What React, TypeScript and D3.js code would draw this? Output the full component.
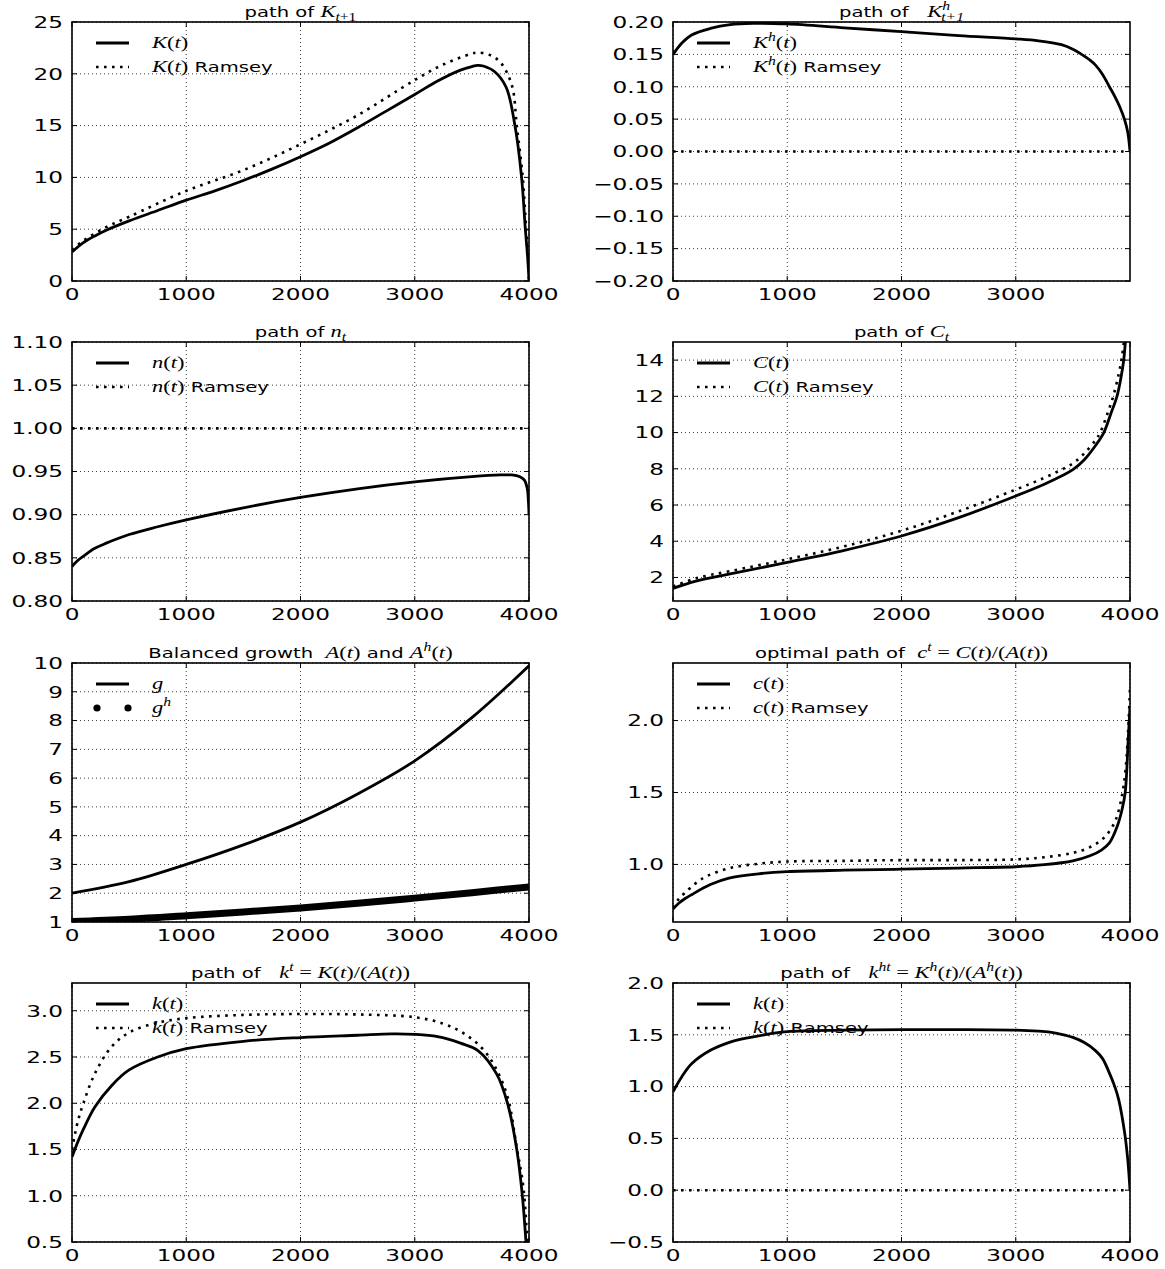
import React from "react";
import * as d3 from "d3";

// ---- data ----
const X_TICKS = [0, 1000, 2000, 3000, 4000];
const X_TICKS_KH = [0, 1000, 2000, 3000];

// K(t)
const K_T = [0, 100, 200, 300, 500, 750, 1000, 1250, 1500, 1750, 2000, 2250, 2500, 2750, 3000, 3200, 3400, 3500, 3550, 3600, 3700, 3800, 3877, 3935, 3968, 3990, 4000];
const K_VALS = [2.8, 3.7, 4.35, 4.9, 5.8, 6.8, 7.8, 8.7, 9.7, 10.8, 12.0, 13.3, 14.8, 16.4, 18.0, 19.3, 20.35, 20.7, 20.82, 20.75, 20.2, 18.7, 15.0, 10.0, 5.0, 2.0, 0];
const KR_T = [0, 100, 300, 500, 1000, 1500, 2000, 2500, 3000, 3250, 3500, 3550, 3650, 3750, 3850, 3893, 3945, 3975, 3992, 4000];
const KR_VALS = [3.0, 3.9, 5.2, 6.2, 8.7, 10.7, 13.2, 16.0, 19.4, 20.9, 21.95, 22.05, 21.85, 21.1, 18.9, 15.0, 10.0, 5.0, 2.0, 0];

// K^h(t)
const KH_T = [0, 80, 163, 327, 500, 700, 1000, 1500, 2000, 2500, 3000, 3200, 3400, 3500, 3576, 3650, 3700, 3760, 3820, 3870, 3910, 3951, 3980, 4000];
const KH_VALS = [0.15, 0.168, 0.18, 0.19, 0.196, 0.198, 0.197, 0.191, 0.185, 0.179, 0.174, 0.171, 0.165, 0.158, 0.15, 0.141, 0.133, 0.119, 0.1, 0.084, 0.069, 0.05, 0.03, 0.0];
const KHR_T = [0, 4000];
const KHR_VALS = [0, 0];

// n(t)
const N_T = [0, 50, 100, 200, 300, 500, 750, 1000, 1500, 2000, 2500, 3000, 3500, 3750, 3850, 3920, 3960, 3985, 3995, 4000];
const N_VALS = [0.84, 0.847, 0.852, 0.861, 0.867, 0.877, 0.886, 0.894, 0.908, 0.92, 0.93, 0.938, 0.944, 0.946, 0.946, 0.944, 0.94, 0.93, 0.915, 0.9];
const NR_T = [0, 4000];
const NR_VALS = [1, 1];

// C(t)
const C_T = [0, 200, 500, 1000, 1500, 2000, 2500, 3000, 3250, 3400, 3500, 3600, 3700, 3771, 3830, 3886, 3920, 3945, 3965];
const C_VALS = [1.4, 1.8, 2.2, 2.83, 3.5, 4.29, 5.3, 6.5, 7.15, 7.6, 7.95, 8.5, 9.3, 10.0, 11.0, 12.0, 13.0, 14.0, 15.5];
const CR_T = [0, 200, 500, 1000, 1500, 2000, 2500, 3000, 3250, 3400, 3500, 3600, 3700, 3739, 3800, 3853, 3900, 3930, 3955];
const CR_VALS = [1.5, 1.95, 2.35, 3.0, 3.72, 4.58, 5.65, 6.85, 7.5, 7.95, 8.3, 8.85, 9.6, 10.0, 11.0, 12.0, 13.2, 14.2, 15.5];

// A(t), A^h(t)
const G_T = [0, 500, 1000, 1500, 2000, 2500, 3000, 3500, 4000];
const G_VALS = [2.0, 2.4, 3.0, 3.68, 4.47, 5.45, 6.6, 8.1, 9.9];
const GH_VALS = [1.02, 1.1, 1.22, 1.35, 1.49, 1.65, 1.83, 2.02, 2.22];

// c(t)
const CN_T = [0, 50, 100, 163, 327, 490, 750, 1000, 1500, 2000, 2500, 3000, 3250, 3500, 3650, 3750, 3820, 3886, 3930, 3958, 3984, 4000];
const CN_VALS = [0.69, 0.73, 0.76, 0.79, 0.86, 0.905, 0.935, 0.95, 0.96, 0.967, 0.975, 0.984, 0.998, 1.025, 1.06, 1.1, 1.15, 1.26, 1.38, 1.5, 1.86, 2.1];
const CNR_T = [0, 50, 100, 200, 300, 500, 750, 1000, 1500, 2000, 2500, 3000, 3250, 3500, 3650, 3750, 3820, 3880, 3930, 3960, 3985, 4000];
const CNR_VALS = [0.7, 0.76, 0.8, 0.87, 0.92, 0.975, 1.005, 1.02, 1.025, 1.03, 1.03, 1.035, 1.05, 1.08, 1.12, 1.17, 1.23, 1.32, 1.48, 1.65, 1.95, 2.23];

// k(t) = K/A
const KT_T = [0, 50, 100, 200, 346, 500, 750, 1000, 1500, 2000, 2500, 2800, 3000, 3200, 3400, 3553, 3715, 3812, 3893, 3942, 3974, 4000];
const KT_VALS = [1.42, 1.58, 1.72, 1.96, 2.19, 2.36, 2.5, 2.59, 2.67, 2.71, 2.735, 2.75, 2.745, 2.72, 2.65, 2.57, 2.32, 2.0, 1.5, 1.0, 0.5, 0.1];
const KTR_T = [0, 50, 100, 200, 346, 508, 750, 1000, 1500, 2000, 2500, 3000, 3250, 3423, 3585, 3700, 3812, 3893, 3950, 3985, 4000];
const KTR_VALS = [1.5, 1.8, 2.0, 2.32, 2.61, 2.77, 2.87, 2.92, 2.955, 2.965, 2.96, 2.93, 2.86, 2.76, 2.6, 2.4, 2.07, 1.52, 1.1, 0.5, 0.1];

// k^h(t) = K^h/A^h
const KHT_T = [0, 80, 163, 327, 500, 653, 1000, 1500, 2000, 2500, 3000, 3200, 3300, 3400, 3500, 3600, 3700, 3760, 3820, 3870, 3902, 3951, 3980, 4000];
const KHT_VALS = [0.95, 1.1, 1.22, 1.35, 1.43, 1.47, 1.53, 1.545, 1.55, 1.55, 1.545, 1.535, 1.525, 1.505, 1.475, 1.425, 1.345, 1.27, 1.13, 0.99, 0.87, 0.57, 0.3, 0.0];
const KHTR_T = [0, 4000];
const KHTR_VALS = [0, 0];

// ---- layout ----
const COL_X = [72, 673];
const ROW_Y = [22, 342, 663, 983];
const PW = 457;
const PH = 259;

const SANS = "DejaVu Sans";
const SERIF = "Liberation Serif";
const TICK_SIZE = 16;
const TICK_SX = 1.45;
const TXT_SIZE = 14.5;
const TXT_SX = 1.35;

const minus = (s) => s.replace("-", "\u2212");
const fmt = (n) => (d) => minus(d.toFixed(n));

const rng = (a, b, s) => d3.range(a, b + s / 2, s);

// segment kinds: r = sans text, i = math italic, m = math upright, sup / sub = italic scripts, subm = upright sub
const panels = [
  {
    title: [["r", "path of "], ["i", "K"], ["sub", "t"], ["subm", "+1"]],
    y: [0, 25], yTicks: rng(0, 25, 5), yFmt: fmt(0), xTicks: X_TICKS,
    series: [
      { t: K_T, v: K_VALS, style: "solid" },
      { t: KR_T, v: KR_VALS, style: "dot" },
    ],
    legend: [
      { style: "solid", label: [["i", "K"], ["m", "("], ["i", "t"], ["m", ")"]] },
      { style: "dot", label: [["i", "K"], ["m", "("], ["i", "t"], ["m", ")"], ["r", " Ramsey"]] },
    ],
  },
  {
    title: [["r", "path of   "], ["i", "K"], ["supsub", "h", "t+1"]],
    y: [-0.2, 0.2], yTicks: rng(-0.2, 0.2, 0.05), yFmt: fmt(2), xTicks: X_TICKS_KH,
    series: [
      { t: KH_T, v: KH_VALS, style: "solid" },
      { t: KHR_T, v: KHR_VALS, style: "dot" },
    ],
    legend: [
      { style: "solid", label: [["i", "K"], ["sup", "h"], ["m", "("], ["i", "t"], ["m", ")"]] },
      { style: "dot", label: [["i", "K"], ["sup", "h"], ["m", "("], ["i", "t"], ["m", ")"], ["r", " Ramsey"]] },
    ],
  },
  {
    title: [["r", "path of "], ["i", "n"], ["sub", "t"]],
    y: [0.8, 1.1], yTicks: rng(0.8, 1.1, 0.05), yFmt: fmt(2), xTicks: X_TICKS,
    series: [
      { t: N_T, v: N_VALS, style: "solid" },
      { t: NR_T, v: NR_VALS, style: "dot" },
    ],
    legend: [
      { style: "solid", label: [["i", "n"], ["m", "("], ["i", "t"], ["m", ")"]] },
      { style: "dot", label: [["i", "n"], ["m", "("], ["i", "t"], ["m", ")"], ["r", " Ramsey"]] },
    ],
  },
  {
    title: [["r", "path of "], ["i", "C"], ["sub", "t"]],
    y: [0.7, 15], yTicks: rng(2, 14, 2), yFmt: fmt(0), xTicks: X_TICKS,
    series: [
      { t: C_T, v: C_VALS, style: "solid" },
      { t: CR_T, v: CR_VALS, style: "dot" },
    ],
    legend: [
      { style: "solid", label: [["i", "C"], ["m", "("], ["i", "t"], ["m", ")"]] },
      { style: "dot", label: [["i", "C"], ["m", "("], ["i", "t"], ["m", ")"], ["r", " Ramsey"]] },
    ],
  },
  {
    title: [["r", "Balanced growth  "], ["i", "A"], ["m", "("], ["i", "t"], ["m", ")"], ["r", " and "], ["i", "A"], ["sup", "h"], ["m", "("], ["i", "t"], ["m", ")"]],
    y: [1, 10], yTicks: rng(1, 10, 1), yFmt: fmt(0), xTicks: X_TICKS,
    series: [
      { t: G_T, v: G_VALS, style: "solid" },
      { t: G_T, v: GH_VALS, style: "band" },
    ],
    legend: [
      { style: "solid", label: [["i", "g"]] },
      { style: "bigdot", label: [["i", "g"], ["sup", "h"]] },
    ],
  },
  {
    title: [["r", "optimal path of  "], ["i", "c"], ["sup", "t"], ["m", " = "], ["i", "C"], ["m", "("], ["i", "t"], ["m", ")/("], ["i", "A"], ["m", "("], ["i", "t"], ["m", "))"]],
    y: [0.6, 2.4], yTicks: [1.0, 1.5, 2.0], yFmt: fmt(1), xTicks: X_TICKS,
    series: [
      { t: CN_T, v: CN_VALS, style: "solid" },
      { t: CNR_T, v: CNR_VALS, style: "dot" },
    ],
    legend: [
      { style: "solid", label: [["i", "c"], ["m", "("], ["i", "t"], ["m", ")"]] },
      { style: "dot", label: [["i", "c"], ["m", "("], ["i", "t"], ["m", ")"], ["r", " Ramsey"]] },
    ],
  },
  {
    title: [["r", "path of   "], ["i", "k"], ["sup", "t"], ["m", " = "], ["i", "K"], ["m", "("], ["i", "t"], ["m", ")/("], ["i", "A"], ["m", "("], ["i", "t"], ["m", "))"]],
    y: [0.5, 3.3], yTicks: rng(0.5, 3.0, 0.5), yFmt: fmt(1), xTicks: X_TICKS,
    series: [
      { t: KT_T, v: KT_VALS, style: "solid" },
      { t: KTR_T, v: KTR_VALS, style: "dot" },
    ],
    legend: [
      { style: "solid", label: [["i", "k"], ["m", "("], ["i", "t"], ["m", ")"]] },
      { style: "dot", label: [["i", "k"], ["m", "("], ["i", "t"], ["m", ")"], ["r", " Ramsey"]] },
    ],
  },
  {
    title: [["r", "path of   "], ["i", "k"], ["sup", "ht"], ["m", " = "], ["i", "K"], ["sup", "h"], ["m", "("], ["i", "t"], ["m", ")/("], ["i", "A"], ["sup", "h"], ["m", "("], ["i", "t"], ["m", "))"]],
    y: [-0.5, 2.0], yTicks: rng(-0.5, 2.0, 0.5), yFmt: fmt(1), xTicks: X_TICKS,
    series: [
      { t: KHT_T, v: KHT_VALS, style: "solid" },
      { t: KHTR_T, v: KHTR_VALS, style: "dot" },
    ],
    legend: [
      { style: "solid", label: [["i", "k"], ["m", "("], ["i", "t"], ["m", ")"]] },
      { style: "dot", label: [["i", "k"], ["m", "("], ["i", "t"], ["m", ")"], ["r", " Ramsey"]] },
    ],
  },
];

// renders math/sans segments as tspans
function Segs({ segs, size }) {
  const out = [];
  let shift = 0; // current baseline offset
  segs.forEach((s, i) => {
    const [kind, text, extra] = s;
    const base = { key: i };
    const back = (target) => {
      const dy = target - shift;
      shift = target;
      return dy;
    };
    if (kind === "r") {
      out.push(<tspan {...base} dy={back(0)} fontFamily={SANS} fontSize={size} style={{ whiteSpace: "pre" }}>{text}</tspan>);
    } else if (kind === "i") {
      out.push(<tspan {...base} dy={back(0)} fontFamily={SERIF} fontStyle="italic" fontSize={size * 1.15}>{text}</tspan>);
    } else if (kind === "m") {
      out.push(<tspan {...base} dy={back(0)} fontFamily={SERIF} fontSize={size * 1.15} style={{ whiteSpace: "pre" }}>{text}</tspan>);
    } else if (kind === "sup") {
      out.push(<tspan {...base} dy={back(-size * 0.45)} fontFamily={SERIF} fontStyle="italic" fontSize={size * 0.8}>{text}</tspan>);
    } else if (kind === "sub") {
      out.push(<tspan {...base} dy={back(size * 0.3)} fontFamily={SERIF} fontStyle="italic" fontSize={size * 0.8}>{text}</tspan>);
    } else if (kind === "subm") {
      out.push(<tspan {...base} dy={back(size * 0.3)} fontFamily={SERIF} fontSize={size * 0.8}>{text}</tspan>);
    } else if (kind === "supsub") {
      out.push(<tspan key={i + "a"} dy={back(-size * 0.45)} fontFamily={SERIF} fontStyle="italic" fontSize={size * 0.8}>{text}</tspan>);
      out.push(<tspan key={i + "b"} dx={-size * 0.45} dy={back(size * 0.3)} fontFamily={SERIF} fontStyle="italic" fontSize={size * 0.8}>{extra}</tspan>);
    }
  });
  return <>{out}</>;
}

const SOLID_W = 2.8;
const DOT_W = 2.6;
const DOT_DASH = "2.6,5.4";

function Panel({ cfg, idx }) {
  const col = idx % 2;
  const row = Math.floor(idx / 2);
  const x0 = COL_X[col];
  const y0 = ROW_Y[row];
  const x = d3.scaleLinear().domain([0, 4000]).range([0, PW]);
  const y = d3.scaleLinear().domain(cfg.y).range([PH, 0]);
  const clipId = `clip-${idx}`;

  const line = (t, v) =>
    d3.line().curve(d3.curveCatmullRom.alpha(0.5)).x((_, i) => x(t[i])).y((d) => y(d))(v);

  return (
    <g transform={`translate(${x0},${y0})`}>
      <defs>
        <clipPath id={clipId}>
          <rect x={0} y={0} width={PW} height={PH} />
        </clipPath>
      </defs>
      {/* grid */}
      {cfg.xTicks.map((t) => (
        <line key={"gx" + t} x1={x(t)} x2={x(t)} y1={0} y2={PH} stroke="#000" strokeWidth={1} strokeDasharray="1,3" opacity={0.75} />
      ))}
      {cfg.yTicks.map((t) => (
        <line key={"gy" + t} x1={0} x2={PW} y1={y(t)} y2={y(t)} stroke="#000" strokeWidth={1} strokeDasharray="1,3" opacity={0.75} />
      ))}
      {/* series */}
      <g clipPath={`url(#${clipId})`}>
        {cfg.series.map((s, i) => {
          const d = line(s.t, s.v);
          if (s.style === "solid")
            return <path key={i} d={d} fill="none" stroke="#000" strokeWidth={SOLID_W} />;
          if (s.style === "band")
            return <path key={i} d={d} fill="none" stroke="#000" strokeWidth={7} />;
          return <path key={i} d={d} fill="none" stroke="#000" strokeWidth={DOT_W} strokeDasharray={DOT_DASH} />;
        })}
      </g>
      {/* ticks (inside, all sides) */}
      {cfg.xTicks.map((t) => (
        <g key={"tx" + t}>
          <line x1={x(t)} x2={x(t)} y1={PH} y2={PH - 5} stroke="#000" strokeWidth={1} />
          <line x1={x(t)} x2={x(t)} y1={0} y2={5} stroke="#000" strokeWidth={1} />
        </g>
      ))}
      {cfg.yTicks.map((t) => (
        <g key={"ty" + t}>
          <line x1={0} x2={5} y1={y(t)} y2={y(t)} stroke="#000" strokeWidth={1} />
          <line x1={PW} x2={PW - 5} y1={y(t)} y2={y(t)} stroke="#000" strokeWidth={1} />
        </g>
      ))}
      {/* frame */}
      <rect x={0} y={0} width={PW} height={PH} fill="none" stroke="#000" strokeWidth={1.6} />
      {/* tick labels */}
      {cfg.xTicks.map((t) => (
        <g key={"lx" + t} transform={`translate(${x(t)},${PH + 19}) scale(${TICK_SX},1)`}>
          <text textAnchor="middle" fontFamily={SANS} fontSize={TICK_SIZE}>{String(t)}</text>
        </g>
      ))}
      {cfg.yTicks.map((t) => (
        <g key={"ly" + t} transform={`translate(-9,${y(t) + TICK_SIZE * 0.36}) scale(${TICK_SX},1)`}>
          <text textAnchor="end" fontFamily={SANS} fontSize={TICK_SIZE}>{cfg.yFmt(t)}</text>
        </g>
      ))}
      {/* title */}
      <g transform={`translate(${PW / 2},-5) scale(${TXT_SX},1)`}>
        <text textAnchor="middle">
          <Segs segs={cfg.title} size={TXT_SIZE} />
        </text>
      </g>
      {/* legend */}
      {cfg.legend.map((l, i) => {
        const ly = 21 + i * 24;
        let sample;
        if (l.style === "solid")
          sample = <line x1={24} x2={57} y1={ly} y2={ly} stroke="#000" strokeWidth={SOLID_W} />;
        else if (l.style === "bigdot")
          sample = (
            <g>
              <circle cx={25} cy={ly} r={3.6} fill="#000" />
              <circle cx={56} cy={ly} r={3.6} fill="#000" />
            </g>
          );
        else
          sample = <line x1={24} x2={57} y1={ly} y2={ly} stroke="#000" strokeWidth={DOT_W} strokeDasharray={DOT_DASH} />;
        return (
          <g key={"lg" + i}>
            {sample}
            <g transform={`translate(80,${ly + 5}) scale(${TXT_SX},1)`}>
              <text>
                <Segs segs={l.label} size={TXT_SIZE} />
              </text>
            </g>
          </g>
        );
      })}
    </g>
  );
}

export default function App() {
  return (
    <svg
      width={1165}
      height={1269}
      style={{ position: "absolute", left: 0, top: 0, background: "#fff" }}
    >
      <rect width={1165} height={1269} fill="#fff" />
      {panels.map((p, i) => (
        <Panel key={i} cfg={p} idx={i} />
      ))}
    </svg>
  );
}
